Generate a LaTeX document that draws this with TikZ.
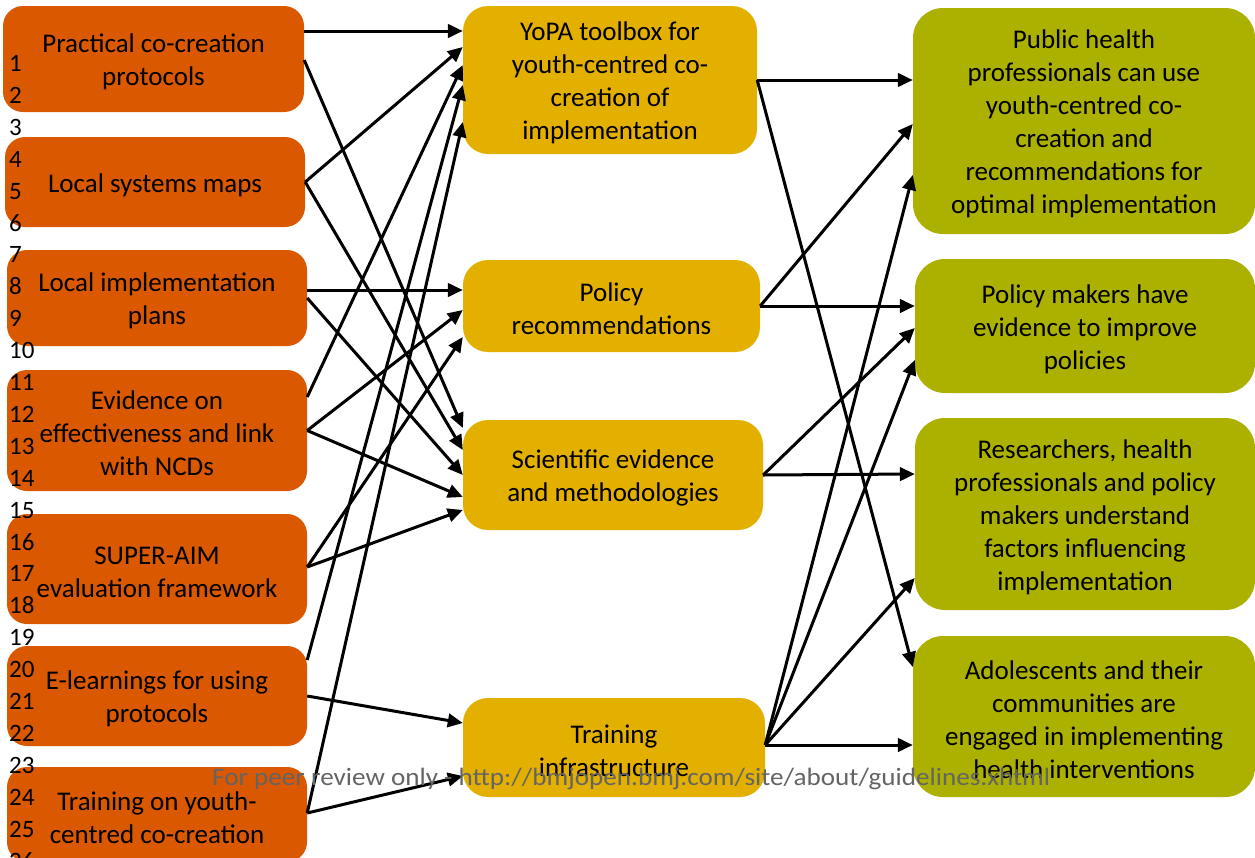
\documentclass[tikz,border=0pt]{standalone}
\usepackage{fontspec}
\usepackage{graphicx}
\setmainfont{Carlito}
\usetikzlibrary{arrows.meta}

\definecolor{inputorange}{RGB}{217,88,0}
\definecolor{outputgold}{RGB}{227,176,0}
\definecolor{outcomeolive}{RGB}{172,177,0}
\definecolor{markgray}{RGB}{100,100,100}

\begin{document}
\begin{tikzpicture}[x=1pt,y=-1pt,
  box/.style={rounded corners=#1, inner sep=0pt, draw=none},
  inbox/.style={box=20pt, fill=inputorange},
  outbox/.style={box=25pt, fill=outputgold},
  resbox/.style={box=30pt, fill=outcomeolive},
  boxtext/.style={inner sep=0pt, align=center, font=\fontsize{27}{33}\selectfont},
  link/.style={line width=3pt, -{Triangle[length=15pt,width=13.5pt]}},
  lineno/.style={anchor=base west, inner sep=0pt, font=\fontsize{25}{25}\selectfont},
]
\useasboundingbox (0,0) rectangle (1255,857);

% inputs
\node[inbox, minimum width=301pt, minimum height=106pt] (L1) at (153.5,59) {};
\node[inbox, minimum width=300pt, minimum height=90pt] (L2) at (155,182) {};
\node[inbox, minimum width=300pt, minimum height=96pt] (L3) at (157,298) {};
\node[inbox, minimum width=300pt, minimum height=121pt] (L4) at (157,430.5) {};
\node[inbox, minimum width=300pt, minimum height=110pt] (L5) at (157,569) {};
\node[inbox, minimum width=300pt, minimum height=100pt] (L6) at (157,696) {};
\node[inbox, minimum width=300pt, minimum height=95pt] (L7) at (157,814.5) {};

% outputs
\node[outbox, minimum width=294pt, minimum height=148pt] (M1) at (610,80) {};
\node[outbox, minimum width=297pt, minimum height=92pt] (M2) at (611.5,306) {};
\node[outbox, minimum width=300pt, minimum height=110pt] (M3) at (613,475) {};
\node[outbox, minimum width=302pt, minimum height=99pt] (M4) at (614,747.5) {};

% outcomes
\node[resbox, minimum width=342pt, minimum height=226pt] (R1) at (1084,121) {};
\node[resbox, minimum width=340pt, minimum height=134pt] (R2) at (1085,326) {};
\node[resbox, minimum width=340pt, minimum height=192pt] (R3) at (1085,514) {};
\node[resbox, minimum width=342pt, minimum height=161pt] (R4) at (1084,716.5) {};

% box captions, set a little below each box centre
\node[boxtext] (tL1) at ([yshift=-3pt]L1.center) {Practical co-creation\\protocols};
\node[boxtext] (tL2) at ([yshift=-3pt]L2.center) {Local systems maps};
\node[boxtext] (tL3) at ([yshift=-3pt]L3.center) {Local implementation\\plans};
\node[boxtext] (tL4) at ([yshift=-3pt]L4.center) {Evidence on\\effectiveness and link\\with NCDs};
\node[boxtext] (tL5) at ([yshift=-3pt]L5.center) {SUPER-AIM\\evaluation framework};
\node[boxtext] (tL6) at ([yshift=-3pt]L6.center) {E-learnings for using\\protocols};
\node[boxtext] (tL7) at ([yshift=-3pt]L7.center) {Training on youth-\\centred co-creation};
\node[boxtext] (tM1) at ([yshift=-3pt]M1.center) {YoPA toolbox for\\youth-centred co-\\creation of\\implementation};
\node[boxtext] (tM2) at ([yshift=-3pt]M2.center) {Policy\\recommendations};
\node[boxtext] (tM3) at ([yshift=-3pt]M3.center) {Scientific evidence\\and methodologies};
\node[boxtext] (tM4) at ([yshift=-3pt]M4.center) {Training\\infrastructure};
\node[boxtext] (tR1) at ([yshift=-3pt]R1.center) {Public health\\professionals can use\\youth-centred co-\\creation and\\recommendations for\\optimal implementation};
\node[boxtext] (tR2) at ([yshift=-3pt]R2.center) {Policy makers have\\evidence to improve\\policies};
\node[boxtext] (tR3) at ([yshift=-3pt]R3.center) {Researchers, health\\professionals and policy\\makers understand\\factors influencing\\implementation};
\node[boxtext] (tR4) at ([yshift=-3pt]R4.center) {Adolescents and their\\communities are\\engaged in implementing\\health interventions};

% inputs to outputs
\draw[link] ([yshift=28pt]L1.east) -- ([yshift=49pt]M1.west);
\draw[link] ([yshift=-1pt]L1.east) -- ([yshift=47pt]M3.west);
\draw[link] (L2.east) -- ([yshift=33pt]M1.west);
\draw[link] (L2.east) -- ([yshift=25pt]M3.west);
\draw[link] ([yshift=8pt]L3.east) -- ([yshift=16pt]M2.west);
\draw[link] (L3.east) -- (M3.west);
\draw[link] ([yshift=33.5pt]L4.east) -- ([yshift=15pt]M1.west);
\draw[link] (L4.east) -- ([yshift=-4pt]M2.west);
\draw[link] (L4.east) -- ([yshift=-22pt]M3.west);
\draw[link] ([yshift=2pt]L5.east) -- ([yshift=-31pt]M2.west);
\draw[link] ([yshift=2pt]L5.east) -- ([yshift=-35pt]M3.west);
\draw[link] ([yshift=36pt]L6.east) -- ([yshift=-5pt]M1.west);
\draw[link] (L6.east) -- ([yshift=24.5pt]M4.west);
\draw[link] ([yshift=1.5pt]L7.east) -- ([yshift=-42pt]M1.west);
\draw[link] ([yshift=1.5pt]L7.east) -- ([yshift=-28.5pt]M4.west);

% outputs to outcomes
\draw[link] (M1.east) -- ([yshift=41pt]R1.west);
\draw[link] (M1.east) -- ([yshift=49.5pt]R4.west);
\draw[link] (M2.east) -- ([yshift=-3pt]R1.west);
\draw[link] (M2.east) -- ([yshift=20pt]R2.west);
\draw[link] (M3.east) -- ([yshift=-2pt]R2.west);
\draw[link] (M3.east) -- ([yshift=40pt]R3.west);
\draw[link] ([yshift=2.5pt]M4.east) -- ([yshift=-54pt]R1.west);
\draw[link] ([yshift=2.5pt]M4.east) -- ([yshift=-34pt]R2.west);
\draw[link] ([yshift=2.5pt]M4.east) -- ([yshift=-64pt]R3.west);
\draw[link] ([yshift=2.5pt]M4.east) -- ([yshift=-28.5pt]R4.west);

% manuscript line numbers
\foreach \k in {1,...,26} {
  \node[lineno] (n\k) at (9,{71.5+31.9*(\k-1)}) {\k};
}

% review watermark
\node[anchor=base west, inner sep=0pt, text=markgray] (wm) at (212,785)
  {\resizebox{838pt}{\height}{\fontsize{25}{25}\selectfont For peer review only - http://bmjopen.bmj.com/site/about/guidelines.xhtml}};
\end{tikzpicture}
\end{document}
